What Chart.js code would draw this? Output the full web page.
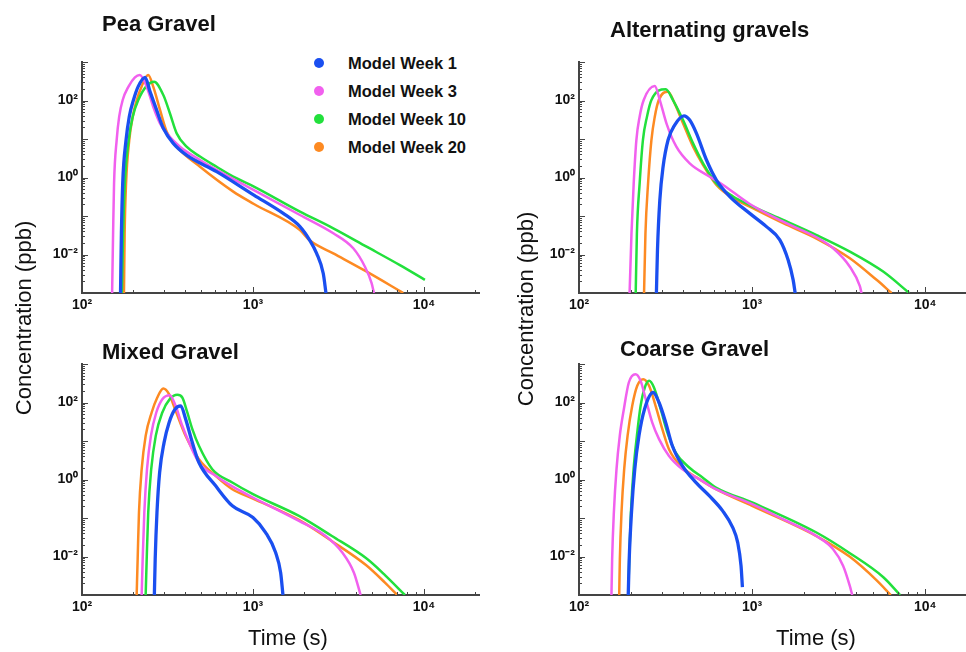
<!DOCTYPE html>
<html>
<head>
<meta charset="utf-8">
<script src="https://cdn.jsdelivr.net/npm/chart.js@4.4.0/dist/chart.umd.min.js"></script>
<style>
  html, body { margin: 0; padding: 0; background: #fff; }
  body { width: 966px; height: 652px; position: relative; overflow: hidden;
         font-family: "Liberation Sans", Arial, Helvetica, sans-serif; color: #111; }
  canvas { position: absolute; }
  .title { position: absolute; font-weight: bold; font-size: 22px; line-height: 22px; white-space: nowrap; }
  .axis-title { position: absolute; font-size: 22px; line-height: 22px; white-space: nowrap; text-align: center; }
  .ytitle { width: 260px; height: 22px; transform: rotate(-90deg); transform-origin: 50% 50%; }
  #legend { position: absolute; left: 314px; top: 52px; }
  .legend-row { position: absolute; left: 0; height: 22px; white-space: nowrap; }
  .legend-row .dot { position: absolute; left: 0; top: 6px; width: 10px; height: 10px; border-radius: 50%; }
  .legend-row .txt { position: absolute; left: 34px; top: 0; font-weight: bold; font-size: 16.5px; line-height: 22px; }
</style>
</head>
<body>
<div id="legend"></div>
<script>
const seriesNames = ['Model Week 1', 'Model Week 3', 'Model Week 10', 'Model Week 20'];
const seriesColors = ['#1a4ff0', '#f160ee', '#22e03c', '#fd8a22'];
const panelTitles = ['Pea Gravel', 'Alternating gravels', 'Mixed Gravel', 'Coarse Gravel'];
const xTitle = 'Time (s)';
const yTitle = 'Concentration (ppb)';
const xTickValues = [100, 1000, 10000];
const xTickText = ['10²', '10³', '10⁴'];
const yTickValues = [100, 1, 0.01];
const yTickText = ['10²', '10⁰', '10⁻²'];
const xMin = 100, xMax = 21000, yMin = 0.001, yMax = 1000;

// [time (s), concentration (ppb)]
const peaWeek1 = [[168,0.001],[170,0.035],[173,0.7],[181,9.4],[189,38],[200,103],[213,229],[234,400],[250,170],[273,57],[299,19],[342,7.7],[409,3.8],[613,1.42],[1013,0.35],[1504,0.117],[1883,0.053],[2154,0.023],[2357,0.0107],[2578,0.0032],[2673,0.001]];
const peaWeek3 = [[150,0.001],[152,0.035],[154,0.7],[159.5,9.4],[165,38],[173,103],[187,229],[204,400],[218,459],[239,229],[261,69],[286,25.5],[313,14],[374,6.3],[490,2.85],[613,1.57],[1013,0.47],[1883,0.106],[2950,0.0355],[3860,0.0145],[4519,0.0048],[4943,0.0018],[5100,0.001]];
const peaWeek10 = [[171,0.001],[174,0.035],[178,0.7],[187.5,9.4],[198,38],[213.5,103],[237,229],[264,308],[299,139],[327,46],[358,14],[409,6.3],[490,3.5],[613,1.9],[767,1.05],[1013,0.58],[1883,0.13],[2950,0.048],[4620,0.016],[7238,0.0053],[10135,0.0022]];
const peaWeek20 = [[176,0.001],[177.6,0.035],[181,0.7],[189,9.4],[198,38],[209,103],[223,229],[244,459],[261,229],[286,57],[313,15.5],[358,6.3],[490,1.9],[767,0.43],[1013,0.205],[1883,0.043],[2154,0.023],[2950,0.0107],[4519,0.0038],[7571,0.001]];

const altWeek1 = [[280,0.001],[284,0.013],[293,0.26],[306,1.9],[327,9.4],[357,23],[404,40],[436,31],[477,14],[545,2.85],[622,0.86],[743,0.32],[969,0.117],[1210,0.053],[1445,0.024],[1615,0.0072],[1726,0.0022],[1773,0.001]];
const altWeek3 = [[196,0.001],[201,0.035],[207,0.7],[214.5,9.4],[224,38],[236.5,103],[274,238],[293,103],[320,25.5],[365,6.3],[436,2.33],[569,1.05],[680,0.64],[969,0.205],[1511,0.071],[2355,0.028],[2939,0.0145],[3669,0.0048],[4193,0.0015],[4285,0.001]];
const altWeek10 = [[212.6,0.001],[216,0.035],[224,0.7],[234,9.4],[247,38],[262,103],[317,195],[349,103],[399,31],[456,7.7],[521,2.33],[622,0.7],[777,0.32],[969,0.193],[1511,0.079],[2355,0.032],[3669,0.0119],[5715,0.0036],[8081,0.001]];
const altWeek20 = [[237.6,0.001],[242,0.035],[250.6,0.7],[262,9.4],[274,38],[289,103],[327,170],[357,84],[399,25.5],[456,6.3],[521,2.1],[622,0.64],[777,0.29],[969,0.175],[1511,0.065],[2355,0.026],[3669,0.008],[5232,0.0022],[6390,0.001]];

const mixWeek1 = [[265,0.001],[268,0.0085],[274.5,0.139],[284.5,1.52],[302,9.1],[323,30],[350,67],[378,82],[404,37],[442,9.1],[483,2.77],[605,0.685],[757,0.207],[1000,0.103],[1186,0.042],[1357,0.0127],[1452,0.0038],[1498,0.001]];
const mixWeek3 = [[223.4,0.001],[226.4,0.0085],[231.5,0.139],[240,1.85],[253,13.6],[272,55],[295,122],[326,155],[353,82],[386,24.8],[483,2.77],[605,1.245],[757,0.66],[1000,0.341],[1858,0.084],[2661,0.034],[3330,0.0127],[3896,0.0038],[4263,0.001]];
const mixWeek10 = [[235.7,0.001],[239,0.0085],[244,0.139],[254,1.85],[270,13.6],[295,55],[326,122],[361,158],[386,135],[413,55],[442,20.3],[483,7.5],[578,1.85],[757,0.836],[1000,0.416],[1858,0.113],[2897,0.034],[4581,0.0091],[5916,0.0033],[7744,0.001]];
const mixWeek20 = [[208.8,0.001],[211.6,0.0085],[215.4,0.139],[223.4,1.85],[235.7,13.6],[255.5,55],[275.7,135],[299,231],[323,165],[353,61],[404,13.6],[483,3.38],[605,1.245],[757,0.56],[1000,0.32],[1858,0.089],[2897,0.025],[4581,0.006],[5916,0.0021],[6985,0.001]];

const coaWeek1 = [[192.5,0.001],[195,0.0085],[201,0.139],[210,1.85],[222,13.6],[239,67],[268,182],[290,100],[317,30],[346,7.5],[396,2.26],[473,0.84],[565,0.38],[676,0.153],[772,0.057],[826,0.023],[863,0.0057],[879,0.0016]];
const coaWeek3 = [[154,0.001],[155.4,0.0085],[159,0.139],[164.7,1.85],[172,13.6],[181.6,67],[194,331],[212,545],[227,365],[243,122],[265,30],[290,11.2],[331,4.1],[396,1.85],[495,1.02],[618,0.56],[1000,0.229],[1507,0.093],[2352,0.034],[2938,0.0155],[3358,0.0057],[3671,0.0017],[3787,0.001]];
const coaWeek10 = [[192.5,0.001],[195,0.0085],[199.5,0.139],[206.7,1.85],[216,13.6],[227,82],[240,245],[254,365],[271,245],[296.5,67],[324,16.6],[362,5],[433,2.05],[517,1.13],[618,0.62],[1000,0.253],[2352,0.042],[3671,0.0122],[5730,0.0029],[7160,0.001]];
const coaWeek20 = [[170.7,0.001],[172.2,0.0085],[176,0.139],[182.4,1.85],[190.8,13.6],[203,82],[217,271],[235,404],[254,271],[277,82],[303,20.3],[331,6.1],[396,2.05],[495,1.02],[618,0.56],[1000,0.207],[2352,0.034],[3671,0.0098],[5243,0.0024],[6322,0.001]];

const panelSeries = [
  [peaWeek1, peaWeek3, peaWeek10, peaWeek20],
  [altWeek1, altWeek3, altWeek10, altWeek20],
  [mixWeek1, mixWeek3, mixWeek10, mixWeek20],
  [coaWeek1, coaWeek3, coaWeek10, coaWeek20]
];

// where each panel sits on the page
const boxes = [
  {left: 0, top: 0, width: 483, height: 326, yw: 82, padTop: 62, xh: 33, padRight: 4},
  {left: 483, top: 0, width: 510, height: 326, yw: 96, padTop: 62, xh: 33, padRight: 12},
  {left: 0, top: 326, width: 483, height: 326, yw: 82, padTop: 38, xh: 57, padRight: 4},
  {left: 483, top: 326, width: 510, height: 326, yw: 96, padTop: 38, xh: 57, padRight: 12}
];
const titlePos = [[102, 13], [610, 19], [102, 341], [620, 338]];

const fontFamily = '"Liberation Sans", Arial, Helvetica, sans-serif';
const axisColor = '#444';

function tickLabel(values, texts, value) {
  const i = values.findIndex(v => Math.abs(v - value) / v < 1e-6);
  return i >= 0 ? texts[i] : '';
}

function isOnGrid(v) {
  const e = Math.floor(Math.log10(v) + 1e-9);
  const s = v / Math.pow(10, e);
  return Math.abs(s - Math.round(s)) < 1e-6;
}

// short tick marks drawn inward from the axis lines
const innerTicks = {
  id: 'innerTicks',
  afterDraw(chart) {
    const ctx = chart.ctx;
    const area = chart.chartArea;
    const xs = chart.scales.x, ys = chart.scales.y;
    ctx.save();
    ctx.strokeStyle = axisColor;
    ctx.lineWidth = 1;
    xs.ticks.forEach(t => {
      if (!isOnGrid(t.value)) return;
      const l = Math.log10(t.value);
      const major = Math.abs(l - Math.round(l)) < 1e-6;
      const px = Math.round(xs.getPixelForValue(t.value)) + 0.5;
      ctx.beginPath();
      ctx.moveTo(px, area.bottom);
      ctx.lineTo(px, area.bottom - (major ? 6 : 3));
      ctx.stroke();
    });
    ys.ticks.forEach(t => {
      if (!isOnGrid(t.value)) return;
      const l = Math.log10(t.value);
      const major = Math.abs(l - Math.round(l)) < 1e-6;
      const py = Math.round(ys.getPixelForValue(t.value)) + 0.5;
      ctx.beginPath();
      ctx.moveTo(area.left, py);
      ctx.lineTo(area.left + (major ? 6 : 3), py);
      ctx.stroke();
    });
    ctx.restore();
  }
};

function makePanel(p) {
  const box = boxes[p];
  const canvas = document.createElement('canvas');
  canvas.width = box.width;
  canvas.height = box.height;
  canvas.style.left = box.left + 'px';
  canvas.style.top = box.top + 'px';
  document.body.appendChild(canvas);

  const datasets = panelSeries[p].map((pts, i) => ({
    label: seriesNames[i],
    data: pts.map(d => ({x: d[0], y: d[1]})),
    borderColor: seriesColors[i],
    backgroundColor: seriesColors[i],
    borderWidth: i === 0 ? 3.3 : 2.5,
    pointRadius: 0,
    fill: false,
    cubicInterpolationMode: 'monotone'
  }));

  const tickFont = {family: fontFamily, size: 14, weight: 'bold'};

  new Chart(canvas.getContext('2d'), {
    type: 'line',
    data: {datasets: datasets},
    options: {
      responsive: false,
      animation: false,
      devicePixelRatio: 1,
      layout: {padding: {left: 0, top: box.padTop, right: box.padRight, bottom: 0}},
      plugins: {legend: {display: false}, tooltip: {enabled: false}},
      scales: {
        x: {
          type: 'logarithmic',
          min: xMin,
          max: xMax,
          afterFit: s => { s.height = box.xh; },
          grid: {display: false, drawTicks: false},
          border: {display: true, color: axisColor, width: 2},
          ticks: {
            autoSkip: false, maxRotation: 0, minRotation: 0, padding: 4,
            font: tickFont, color: '#111',
            major: {enabled: false},
            callback: v => tickLabel(xTickValues, xTickText, v)
          }
        },
        y: {
          type: 'logarithmic',
          min: yMin,
          max: yMax,
          afterFit: s => { s.width = box.yw; },
          grid: {display: false, drawTicks: false},
          border: {display: true, color: axisColor, width: 2},
          ticks: {
            autoSkip: false, padding: 4,
            font: tickFont, color: '#111',
            major: {enabled: false},
            callback: v => tickLabel(yTickValues, yTickText, v)
          }
        }
      }
    },
    plugins: [innerTicks]
  });

  const t = document.createElement('div');
  t.className = 'title';
  t.textContent = panelTitles[p];
  t.style.left = titlePos[p][0] + 'px';
  t.style.top = titlePos[p][1] + 'px';
  document.body.appendChild(t);
}

for (let p = 0; p < 4; p++) {
  makePanel(p);
}

// axis titles
[[24, 318], [526, 309]].forEach(c => {
  const d = document.createElement('div');
  d.className = 'axis-title ytitle';
  d.textContent = yTitle;
  d.style.left = (c[0] - 130) + 'px';
  d.style.top = (c[1] - 11) + 'px';
  document.body.appendChild(d);
});
[288, 816].forEach(cx => {
  const d = document.createElement('div');
  d.className = 'axis-title';
  d.textContent = xTitle;
  d.style.width = '160px';
  d.style.left = (cx - 80) + 'px';
  d.style.top = '627px';
  document.body.appendChild(d);
});

// legend
const legend = document.getElementById('legend');
seriesNames.forEach((name, i) => {
  const row = document.createElement('div');
  row.className = 'legend-row';
  row.style.top = (i * 28) + 'px';
  const dot = document.createElement('span');
  dot.className = 'dot';
  dot.style.background = seriesColors[i];
  const txt = document.createElement('span');
  txt.className = 'txt';
  txt.textContent = name;
  row.appendChild(dot);
  row.appendChild(txt);
  legend.appendChild(row);
});
</script>
</body>
</html>
